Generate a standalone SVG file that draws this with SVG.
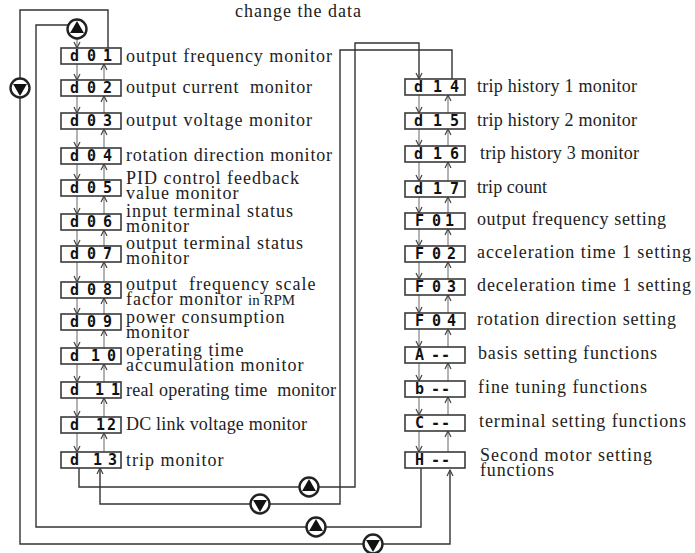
<svg xmlns="http://www.w3.org/2000/svg" xmlns:xlink="http://www.w3.org/1999/xlink" width="695" height="553" viewBox="0 0 695 553">
<style>
.box{fill:#fff;stroke:#3a3a3a;stroke-width:1.6}
.seg{font-family:"DejaVu Sans Mono",monospace;font-weight:bold;font-size:15px;fill:#111}
.lbl{font-family:"Liberation Serif",serif;font-size:18px;letter-spacing:1px;fill:#222}
.small{font-family:"Liberation Serif",serif;font-size:15px;fill:#222}
.wire{fill:none;stroke:#333;stroke-width:1.4}
.step{fill:none;stroke:#666;stroke-width:1;marker-end:url(#ah)}
</style>
<defs>
<marker id="ah" viewBox="0 0 8 8" refX="7" refY="4" markerWidth="8" markerHeight="8" markerUnits="userSpaceOnUse" orient="auto"><path d="M1,1 L7,4 L1,7" fill="none" stroke="#444" stroke-width="1.2"/></marker>
<g id="btnUp"><circle r="9.5" fill="#fff" stroke="#222" stroke-width="2.4"/><path d="M0,-8 L6.93,4 L-6.93,4 Z" fill="#111"/></g>
<g id="btnDown"><circle r="9.5" fill="#fff" stroke="#222" stroke-width="2.4"/><path d="M0,8 L6.93,-4 L-6.93,-4 Z" fill="#111"/></g>
</defs>
<rect width="695" height="553" fill="#fff"/>
<text class="lbl" x="235" y="17">change the data</text>

<g id="connectors">
<path class="wire" d="M108,48 V10 H20 V544 H450 V470" marker-end="url(#ah)"/>
<path class="wire" d="M69,25 H36 V527 H421 V468"/>
<path class="wire" d="M79,468 V487 H355 V43 H419 V79" marker-end="url(#ah)"/>
<path class="wire" d="M452,79 V50 H340 V504 H100 V468" marker-end="url(#ah)"/>
<line class="step" x1="77" y1="38" x2="77" y2="48"/>
<line class="step" x1="77" y1="64" x2="77" y2="80"/><line class="step" x1="104" y1="80" x2="104" y2="64"/>
<line class="step" x1="77" y1="96" x2="77" y2="113"/><line class="step" x1="104" y1="113" x2="104" y2="96"/>
<line class="step" x1="77" y1="129" x2="77" y2="148"/><line class="step" x1="104" y1="148" x2="104" y2="129"/>
<line class="step" x1="77" y1="164" x2="77" y2="180"/><line class="step" x1="104" y1="180" x2="104" y2="164"/>
<line class="step" x1="77" y1="196" x2="77" y2="214"/><line class="step" x1="104" y1="214" x2="104" y2="196"/>
<line class="step" x1="77" y1="230" x2="77" y2="246"/><line class="step" x1="104" y1="246" x2="104" y2="230"/>
<line class="step" x1="77" y1="262" x2="77" y2="282"/><line class="step" x1="104" y1="282" x2="104" y2="262"/>
<line class="step" x1="77" y1="298" x2="77" y2="314"/><line class="step" x1="104" y1="314" x2="104" y2="298"/>
<line class="step" x1="77" y1="330" x2="77" y2="348"/><line class="step" x1="104" y1="348" x2="104" y2="330"/>
<line class="step" x1="77" y1="364" x2="77" y2="382"/><line class="step" x1="104" y1="382" x2="104" y2="364"/>
<line class="step" x1="77" y1="398" x2="77" y2="417"/><line class="step" x1="104" y1="417" x2="104" y2="398"/>
<line class="step" x1="77" y1="433" x2="77" y2="452"/><line class="step" x1="104" y1="452" x2="104" y2="433"/>

<line class="step" x1="419" y1="95" x2="419" y2="113"/><line class="step" x1="448" y1="113" x2="448" y2="95"/>
<line class="step" x1="419" y1="129" x2="419" y2="146"/><line class="step" x1="448" y1="146" x2="448" y2="129"/>
<line class="step" x1="419" y1="162" x2="419" y2="181"/><line class="step" x1="448" y1="181" x2="448" y2="162"/>
<line class="step" x1="419" y1="197" x2="419" y2="213"/><line class="step" x1="448" y1="213" x2="448" y2="197"/>
<line class="step" x1="419" y1="229" x2="419" y2="246"/><line class="step" x1="448" y1="246" x2="448" y2="229"/>
<line class="step" x1="419" y1="262" x2="419" y2="279"/><line class="step" x1="448" y1="279" x2="448" y2="262"/>
<line class="step" x1="419" y1="295" x2="419" y2="313"/><line class="step" x1="448" y1="313" x2="448" y2="295"/>
<line class="step" x1="419" y1="329" x2="419" y2="347"/><line class="step" x1="448" y1="347" x2="448" y2="329"/>
<line class="step" x1="419" y1="363" x2="419" y2="381"/><line class="step" x1="448" y1="381" x2="448" y2="363"/>
<line class="step" x1="419" y1="397" x2="419" y2="415"/><line class="step" x1="448" y1="415" x2="448" y2="397"/>
<line class="step" x1="419" y1="431" x2="419" y2="452"/><line class="step" x1="448" y1="452" x2="448" y2="431"/>
</g>

<g id="btn-up-top"><use xlink:href="#btnUp" x="77" y="29"/></g>
<g id="btn-down-left"><use xlink:href="#btnDown" x="20" y="88"/></g>
<g id="btn-up-1"><use xlink:href="#btnUp" x="309" y="487"/></g>
<g id="btn-down-1"><use xlink:href="#btnDown" x="260" y="504"/></g>
<g id="btn-up-2"><use xlink:href="#btnUp" x="316" y="527"/></g>
<g id="btn-down-2"><use xlink:href="#btnDown" x="373" y="544"/></g>

<g id="d01"><rect class="box" x="61" y="48" width="60" height="16"/><text class="seg" x="70 87 103" y="61">d01</text><text class="lbl" x="126" y="62" textLength="207" lengthAdjust="spacing">output frequency monitor</text></g>
<g id="d02"><rect class="box" x="61" y="80" width="60" height="16"/><text class="seg" x="70 87 103" y="93">d02</text><text class="lbl" x="126" y="93" xml:space="preserve" textLength="187" lengthAdjust="spacing">output current  monitor</text></g>
<g id="d03"><rect class="box" x="61" y="113" width="60" height="16"/><text class="seg" x="70 87 103" y="126">d03</text><text class="lbl" x="126" y="126" textLength="187" lengthAdjust="spacing">output voltage monitor</text></g>
<g id="d04"><rect class="box" x="61" y="148" width="60" height="16"/><text class="seg" x="70 87 103" y="161">d04</text><text class="lbl" x="126" y="161" textLength="207" lengthAdjust="spacing">rotation direction monitor</text></g>
<g id="d05"><rect class="box" x="61" y="180" width="60" height="16"/><text class="seg" x="70 87 103" y="193">d05</text><text class="lbl" x="126" y="184">PID control feedback</text><text class="lbl" x="126" y="199">value monitor</text></g>
<g id="d06"><rect class="box" x="61" y="214" width="60" height="16"/><text class="seg" x="70 87 103" y="227">d06</text><text class="lbl" x="126" y="217">input terminal status</text><text class="lbl" x="126" y="232">monitor</text></g>
<g id="d07"><rect class="box" x="61" y="246" width="60" height="16"/><text class="seg" x="70 87 103" y="259">d07</text><text class="lbl" x="126" y="249">output terminal status</text><text class="lbl" x="126" y="264">monitor</text></g>
<g id="d08"><rect class="box" x="61" y="282" width="60" height="16"/><text class="seg" x="70 87 103" y="295">d08</text><text class="lbl" x="126" y="290" xml:space="preserve">output  frequency scale</text><text class="lbl" x="126" y="305" textLength="117" lengthAdjust="spacing">factor monitor</text><text class="small" x="248" y="305">in RPM</text></g>
<g id="d09"><rect class="box" x="61" y="314" width="60" height="16"/><text class="seg" x="70 87 103" y="327">d09</text><text class="lbl" x="126" y="323">power consumption</text><text class="lbl" x="126" y="338">monitor</text></g>
<g id="d10"><rect class="box" x="61" y="348" width="60" height="16"/><text class="seg" x="70 91 107" y="361">d10</text><text class="lbl" x="126" y="356">operating time</text><text class="lbl" x="126" y="371">accumulation monitor</text></g>
<g id="d11"><rect class="box" x="61" y="382" width="60" height="16"/><text class="seg" x="70 95 111" y="395">d11</text><text class="lbl" x="126" y="396" xml:space="preserve" textLength="211" lengthAdjust="spacing">real operating time  monitor</text></g>
<g id="d12"><rect class="box" x="61" y="417" width="60" height="16"/><text class="seg" x="70 96 107" y="430">d12</text><text class="lbl" x="126" y="430" textLength="182" lengthAdjust="spacing">DC link voltage monitor</text></g>
<g id="d13"><rect class="box" x="61" y="452" width="60" height="16"/><text class="seg" x="70 93 108" y="465">d13</text><text class="lbl" x="126" y="466">trip monitor</text></g>

<g id="d14"><rect class="box" x="405" y="79" width="60" height="16"/><text class="seg" x="414 433 450" y="92">d14</text><text class="lbl" x="477" y="92" textLength="161" lengthAdjust="spacing">trip history 1 monitor</text></g>
<g id="d15"><rect class="box" x="405" y="113" width="60" height="16"/><text class="seg" x="414 433 450" y="126">d15</text><text class="lbl" x="477" y="126" textLength="161" lengthAdjust="spacing">trip history 2 monitor</text></g>
<g id="d16"><rect class="box" x="405" y="146" width="60" height="16"/><text class="seg" x="414 433 450" y="159">d16</text><text class="lbl" x="480" y="159" textLength="160" lengthAdjust="spacing">trip history 3 monitor</text></g>
<g id="d17"><rect class="box" x="405" y="181" width="60" height="16"/><text class="seg" x="414 433 450" y="194">d17</text><text class="lbl" x="477" y="193" textLength="71" lengthAdjust="spacing">trip count</text></g>
<g id="F01"><rect class="box" x="405" y="213" width="60" height="16"/><text class="seg" x="415 432 445" y="226">F01</text><text class="lbl" x="477" y="225" textLength="190" lengthAdjust="spacing">output frequency setting</text></g>
<g id="F02"><rect class="box" x="405" y="246" width="60" height="16"/><text class="seg" x="415 432 447" y="259">F02</text><text class="lbl" x="477" y="258" textLength="215" lengthAdjust="spacing">acceleration time 1 setting</text></g>
<g id="F03"><rect class="box" x="405" y="279" width="60" height="16"/><text class="seg" x="415 432 447" y="292">F03</text><text class="lbl" x="477" y="291" textLength="215" lengthAdjust="spacing">deceleration time 1 setting</text></g>
<g id="F04"><rect class="box" x="405" y="313" width="60" height="16"/><text class="seg" x="415 432 447" y="326">F04</text><text class="lbl" x="477" y="325" textLength="200" lengthAdjust="spacing">rotation direction setting</text></g>
<g id="A"><rect class="box" x="405" y="347" width="60" height="16"/><text class="seg" x="415 431 441" y="360">A--</text><text class="lbl" x="478" y="359" textLength="180" lengthAdjust="spacing">basis setting functions</text></g>
<g id="b"><rect class="box" x="405" y="381" width="60" height="16"/><text class="seg" x="415 431 441" y="394">b--</text><text class="lbl" x="478" y="393" textLength="170" lengthAdjust="spacing">fine tuning functions</text></g>
<g id="C"><rect class="box" x="405" y="415" width="60" height="16"/><text class="seg" x="415 431 441" y="428">C--</text><text class="lbl" x="479" y="427" textLength="208" lengthAdjust="spacing">terminal setting functions</text></g>
<g id="H"><rect class="box" x="405" y="452" width="60" height="16"/><text class="seg" x="415 431 441" y="465">H--</text><text class="lbl" x="480" y="461" textLength="173" lengthAdjust="spacing">Second motor setting</text><text class="lbl" x="480" y="476" textLength="75" lengthAdjust="spacing">functions</text></g>
</svg>
